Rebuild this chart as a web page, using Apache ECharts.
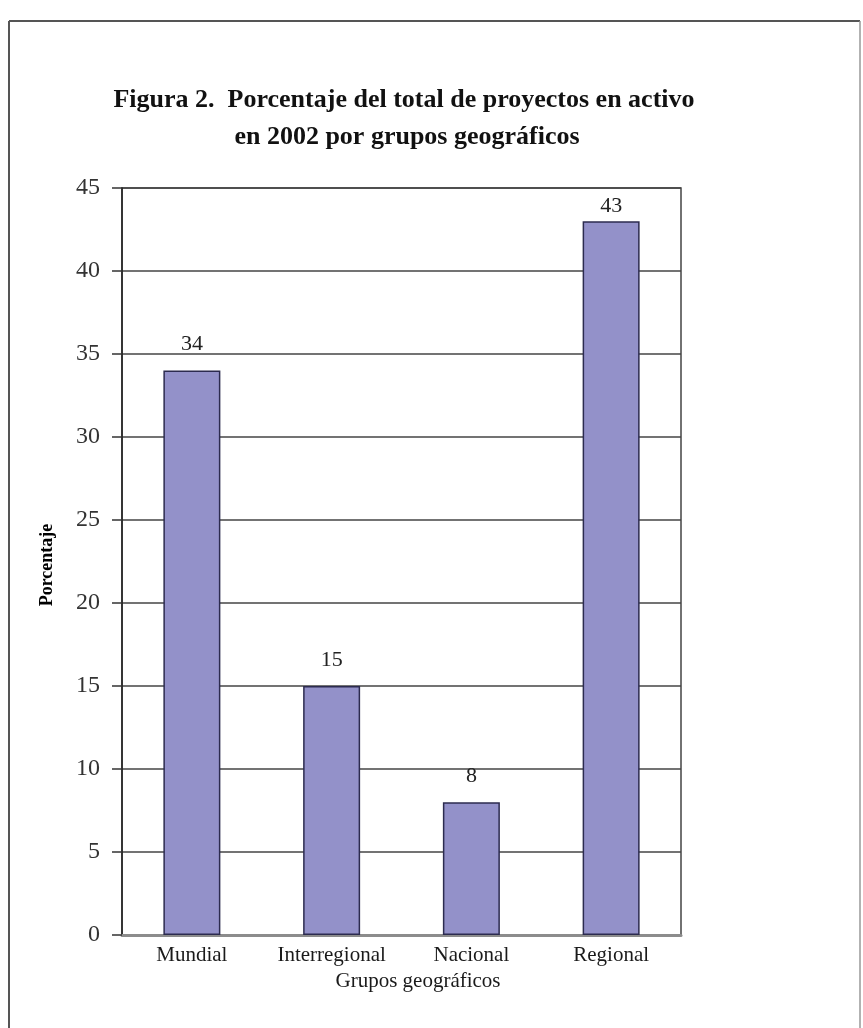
<!DOCTYPE html>
<html>
<head>
<meta charset="utf-8">
<script src="https://cdn.jsdelivr.net/npm/echarts@6/dist/echarts.min.js"></script>
<style>
  html, body { margin: 0; padding: 0; background: #fff; }
  #chart { width: 863px; height: 1028px; }
</style>
</head>
<body>
<div id="chart"></div>
<script>
// Geographic groups and their share of active projects (%)
const categories = ['Mundial', 'Interregional', 'Nacional', 'Regional'];
const percentages = [34, 15, 8, 43];
const yTicks = { min: 0, max: 45, interval: 5 };

const titleLines = [
  'Figura 2.  Porcentaje del total de proyectos en activo',
  'en 2002 por grupos geográficos'
];
const xAxisTitle = 'Grupos geográficos';
const yAxisTitle = 'Porcentaje';

const serif = '"Liberation Serif", "Times New Roman", serif';

// the tallest bar sits just under the top of the plot, so its label is kept tight
const barData = percentages.map(function (v, i) {
  return i === percentages.length - 1
    ? { value: v, label: { distance: 4 } }
    : v;
});

const chart = echarts.init(document.getElementById('chart'), null, { renderer: 'canvas' });

chart.setOption({
  backgroundColor: '#ffffff',
  animation: false,
  grid: {
    left: 122, right: 182, top: 188, bottom: 93,
    show: true,
    borderColor: '#444',
    borderWidth: 1.5,
    backgroundColor: 'transparent'
  },
  xAxis: {
    type: 'category',
    data: categories,
    axisLine: { show: true, lineStyle: { color: '#8c8c8c', width: 3 } },
    axisTick: { show: false },
    axisLabel: {
      interval: 0,
      color: '#1a1a1a',
      fontFamily: serif,
      fontSize: 21,
      margin: 10
    }
  },
  yAxis: {
    type: 'value',
    min: yTicks.min,
    max: yTicks.max,
    interval: yTicks.interval,
    axisLine: { show: true, lineStyle: { color: '#222', width: 1.5 } },
    axisTick: { show: true, inside: false, length: 10, lineStyle: { color: '#333', width: 1.5 } },
    axisLabel: {
      color: '#333',
      fontFamily: serif,
      fontSize: 24,
      margin: 22
    },
    splitLine: { show: true, lineStyle: { color: '#444', width: 1.5 } }
  },
  series: [{
    type: 'bar',
    data: barData,
    barWidth: 57,
    z: 3,
    itemStyle: {
      color: '#9391c9',
      borderColor: '#2c2b4f',
      borderWidth: 1.5
    },
    label: {
      show: true,
      position: 'top',
      distance: 15,
      color: '#222',
      fontFamily: serif,
      fontSize: 22
    }
  }],
  graphic: [
    // page frame
    { type: 'line', shape: { x1: 9, y1: 21, x2: 860, y2: 21 }, style: { stroke: '#555', lineWidth: 2 } },
    { type: 'line', shape: { x1: 9, y1: 21, x2: 9, y2: 1028 }, style: { stroke: '#555', lineWidth: 2 } },
    { type: 'line', shape: { x1: 860, y1: 21, x2: 860, y2: 1028 }, style: { stroke: '#999', lineWidth: 1.5 } },
    // title
    {
      type: 'text', x: 404, y: 100,
      style: {
        text: titleLines[0], textAlign: 'center', textVerticalAlign: 'middle',
        font: 'bold 26px ' + serif, fill: '#111'
      }
    },
    {
      type: 'text', x: 407, y: 137,
      style: {
        text: titleLines[1], textAlign: 'center', textVerticalAlign: 'middle',
        font: 'bold 26px ' + serif, fill: '#111'
      }
    },
    // y axis title
    {
      type: 'text', x: 47, y: 565, rotation: Math.PI / 2,
      style: {
        text: yAxisTitle, textAlign: 'center', textVerticalAlign: 'middle',
        font: 'bold 18px ' + serif, fill: '#000'
      }
    },
    // x axis title
    {
      type: 'text', x: 418, y: 981,
      style: {
        text: xAxisTitle, textAlign: 'center', textVerticalAlign: 'middle',
        font: '21px ' + serif, fill: '#1a1a1a'
      }
    }
  ]
});
</script>
</body>
</html>
